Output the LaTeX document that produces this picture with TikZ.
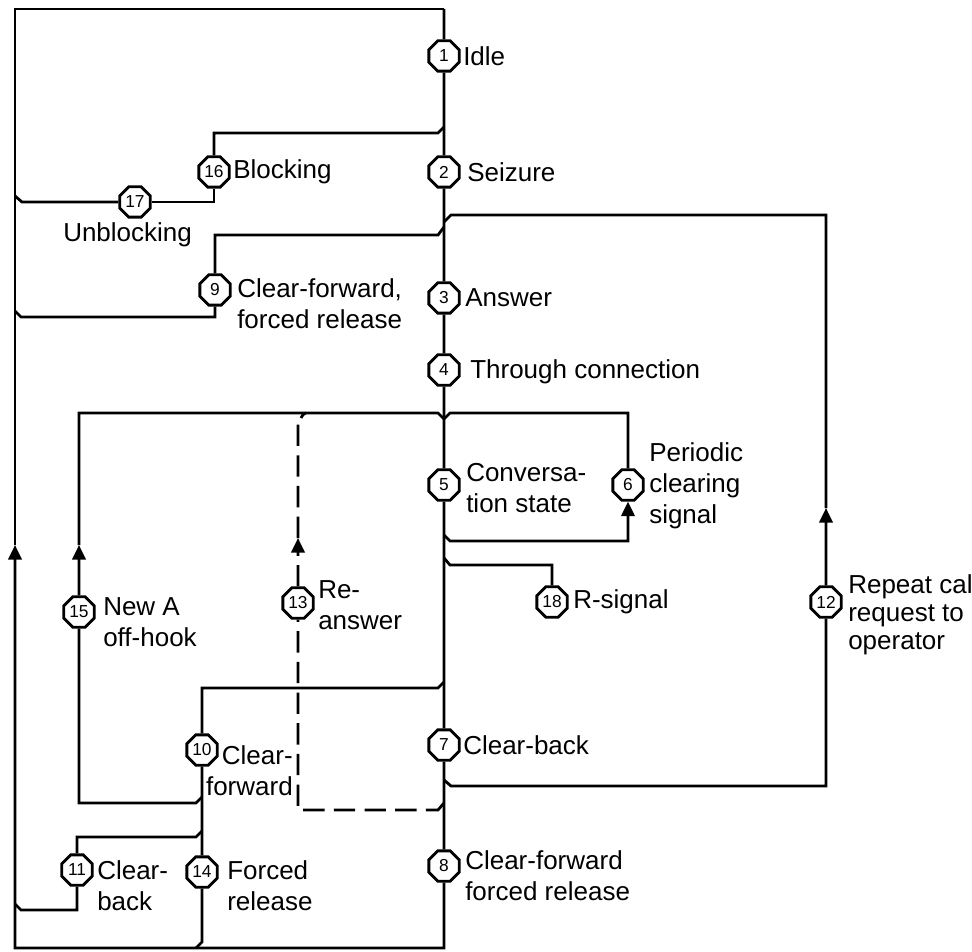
\documentclass[tikz,border=0pt]{standalone}
\usepackage{fontspec}
\setmainfont{Liberation Sans}
\usetikzlibrary{shapes.geometric,arrows.meta}
\begin{document}
\begin{tikzpicture}[x=0.75pt,y=-0.75pt,
  ln/.style={line width=2.1pt},
  oct/.style={regular polygon, regular polygon sides=8, draw, line width=2.1pt, fill=white,
    inner sep=0pt, minimum size=24.6pt, font=\fontsize{13}{14}\selectfont},
  lbl/.style={font=\fontsize{19.5}{23.3}\selectfont, inner sep=0pt, anchor=west, align=left},
  up/.style={ln,-{Triangle[length=11pt,width=10pt]}},
  dsh/.style={ln, dash pattern=on 16pt off 7pt},
  line join=miter]
\useasboundingbox (0,0) rectangle (972,952);
\fill[white] (0,0) rectangle (972,952);

% corner and junction points
\coordinate (TL) at (15,9);
\coordinate (TR) at (444,9);
\coordinate (BL) at (15,948);
\coordinate (BR) at (444,948);
\coordinate (aL) at (15,545);
\coordinate (jA) at (444,127);
\coordinate (m17) at (15,196);
\coordinate (jB1) at (444,780);
\coordinate (jB2) at (444,222);
\coordinate (a12) at (826,508);
\coordinate (jC) at (444,227);
\coordinate (m9) at (15,311);
\coordinate (jD) at (444,419);
\coordinate (a15) at (79,545);
\coordinate (j6) at (444,535);
\coordinate (jE) at (444,803);
\coordinate (a13) at (298,538);
\coordinate (jF) at (444,682);
\coordinate (j10a) at (202,797);
\coordinate (j10b) at (202,831);
\coordinate (m11) at (15,904);
\coordinate (m14) at (196,948);
\coordinate (jR) at (444,558);

% state nodes
\node[oct] (n1) at (444,56) {1};
\node[oct] (n2) at (444,172) {2};
\node[oct] (n3) at (444,298) {3};
\node[oct] (n4) at (444,370) {4};
\node[oct] (n5) at (444,485) {5};
\node[oct] (n6) at (628,485) {6};
\node[oct] (n7) at (444,745) {7};
\node[oct] (n8) at (444,866) {8};
\node[oct] (n9) at (215,290) {9};
\node[oct] (n10) at (202,750) {10};
\node[oct] (n11) at (77,870) {11};
\node[oct] (n12) at (826,602) {12};
\node[oct] (n13) at (298,603) {13};
\node[oct] (n14) at (202,872) {14};
\node[oct] (n15) at (79,612) {15};
\node[oct] (n16) at (214,172) {16};
\node[oct] (n17) at (135,202) {17};
\node[oct] (n18) at (552,602) {18};

% trunk
\draw[ln] (TR) -- (n1);
\draw[ln] (n1) -- (n2);
\draw[ln] (n2) -- (n3);
\draw[ln] (n3) -- (n4);
\draw[ln] (n4) -- (n5);
\draw[ln] (n5) -- (n7);
\draw[ln] (n7) -- (n8);
\draw[up] (n8) -- (BR) -- (BL) -- (aL);
\draw[ln] (aL) -- (TL) -- (TR);

% blocking / unblocking
\draw[ln] (jA) -- ++(-6,6) -| (n16);
\draw[ln] (n16) |- (n17);
\draw[ln] (n17) -- (22,202) -- (m17);

% repeat call loop
\draw[ln] (jB1) -- ++(7,6) -| (n12);
\draw[up] (n12) -- (a12);
\draw[ln] (a12) |- (451,215) -- (jB2);

% clear-forward 9
\draw[ln] (jC) -- ++(-6,8) -| (n9);
\draw[ln] (n9) |- (21,317) -- (m9);

% periodic clearing loop
\draw[ln,-{Triangle[length=11pt,width=10pt]}] (j6) -- ++(6,6) -| (n6);
\draw[ln] (n6) |- (450,413) -- (jD);

% R-signal
\draw[ln] (jR) -- ++(6,7) -| (n18);

% clear-forward 10 and its branches
\draw[ln] (jF) -- ++(-6,6) -| (n10);
\draw[ln] (n10) -- (n14);
\draw[ln] (j10a) -- ++(-6,6) -| (n15);
\draw[up] (n15) -- (a15);
\draw[ln] (a15) |- (438,413) -- (jD);
\draw[ln] (j10b) -- ++(-6,6) -| (n11);
\draw[ln] (n11) |- (21,910) -- (m11);
\draw[ln] (n14) -- (202,942) -- (m14);

% re-answer (dashed)
\draw[dsh] (jE) -- ++(-6,7) -| (n13);
\draw[dsh,-{Triangle[length=11pt,width=10pt]}] (n13) -- (a13);
\draw[dsh] (a13) -- (298,424) to[out=-90,in=180] (306,413);

% labels
\node[lbl] (t1) at (463,56) {Idle};
\node[lbl] (t2) at (467,172) {Seizure};
\node[lbl] (t3) at (465,298) {Answer};
\node[lbl] (t4) at (470,372) {Through connection};
\node[lbl] (t5) at (466,488) {Conversa-\\tion state};
\node[lbl] (t6) at (649,486) {Periodic\\clearing\\signal};
\node[lbl] (t18) at (573,602) {R-signal};
\node[lbl, font=\fontsize{19.5}{21}\selectfont] (t12) at (848,615) {Repeat call\\request to\\operator};
\node[lbl] (t7) at (463,745) {Clear-back};
\node[lbl] (t8) at (465,876) {Clear-forward\\forced release};
\node[lbl] (t16) at (233,172) {Blocking};
\node[lbl] (t17) at (63,235) {Unblocking};
\node[lbl] (t9) at (237,304) {Clear-forward,\\forced release};
\node[lbl] (t15) at (103,622) {New A\\off-hook};
\node[lbl] (t13) at (318,605) {Re-\\answer};
\node[lbl, anchor=east, align=right] (t10) at (293,771) {Clear-\\forward};
\node[lbl] (t11) at (97,886) {Clear-\\back};
\node[lbl] (t14) at (227,886) {Forced\\release};
\end{tikzpicture}
\end{document}
